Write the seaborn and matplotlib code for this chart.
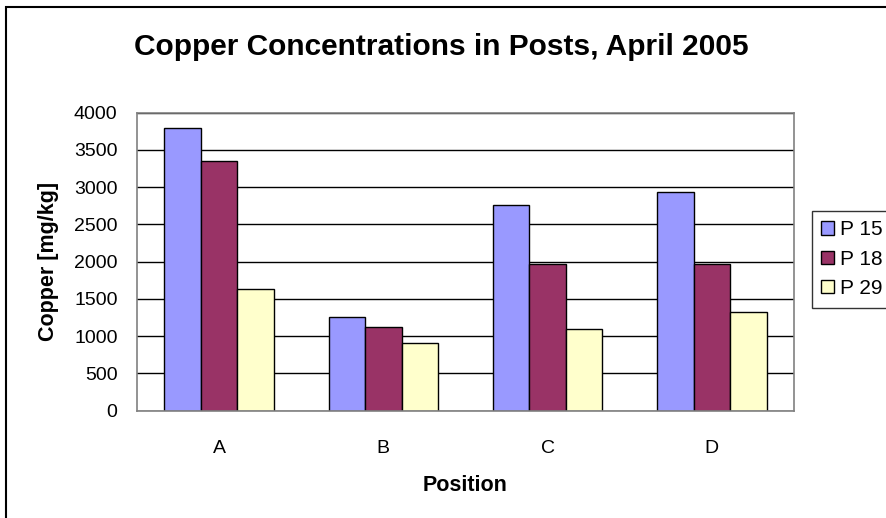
import matplotlib
matplotlib.use("Agg")
import matplotlib.pyplot as plt
import matplotlib.patches as mpatches
import pandas as pd
import seaborn as sns

# data
positions = ["A", "B", "C", "D"]
posts = ["P 15", "P 18", "P 29"]
p15 = [3800, 1260, 2760, 2940]
p18 = [3350, 1130, 1970, 1970]
p29 = [1640, 910, 1090, 1320]
colors = ["#9999FF", "#993366", "#FFFFCC"]
y_ticks = [0, 500, 1000, 1500, 2000, 2500, 3000, 3500, 4000]

df = pd.DataFrame({
    "Position": positions * 3,
    "Post": [p for p in posts for _ in positions],
    "Copper": p15 + p18 + p29,
})

sns.set_style("white")
plt.rcParams["font.family"] = ["Liberation Sans", "DejaVu Sans"]
plt.rcParams["text.color"] = "black"
plt.rcParams["axes.labelcolor"] = "black"
plt.rcParams["xtick.color"] = "black"
plt.rcParams["ytick.color"] = "black"

fig = plt.figure(figsize=(8.87, 5.18), dpi=100)
ax = fig.add_axes([137 / 887, 1 - 410.7 / 518, (794 - 137) / 887, 298 / 518])

sns.barplot(data=df, x="Position", y="Copper", hue="Post", order=positions,
            hue_order=posts, palette=colors, width=0.667, gap=0,
            edgecolor="black", linewidth=1, saturation=1, ax=ax, zorder=3)

ax.set_ylim(0, 4000)
ax.set_xlim(-0.5, len(positions) - 0.5)
ax.set_yticks(y_ticks)
ax.set_yticklabels([str(v) for v in y_ticks], fontsize=14)
ax.tick_params(axis="y", direction="out", length=5, width=1, color="#808080",
               labelcolor="black", pad=9)
ax.tick_params(axis="x", which="major", length=0, labelsize=14, labelcolor="black", pad=21)
ax.set_xticks([i - 0.5 for i in range(len(positions) + 1)], minor=True)
ax.tick_params(axis="x", which="minor", direction="out", length=6, width=1, color="#808080")

ax.yaxis.grid(True, color="black", linewidth=1)
ax.set_axisbelow(True)
for s in ax.spines.values():
    s.set_visible(True)
    s.set_color("#808080")
    s.set_linewidth(1.2)
    s.set_zorder(4)

ax.set_xlabel("Position", fontsize=15.5, fontweight="bold", labelpad=13)
ax.set_ylabel("Copper [mg/kg]", fontsize=15.5, fontweight="bold", labelpad=11)
fig.suptitle("Copper Concentrations in Posts, April 2005", x=0.497, y=1 - 47 / 518,
             va="center", fontsize=21.5, fontweight="bold")

ax.legend(loc="upper left", bbox_to_anchor=(812 / 887, 1 - 211 / 518),
          bbox_transform=fig.transFigure, frameon=True, fancybox=False,
          edgecolor="black", fontsize=15, handlelength=0.6, handleheight=0.6,
          handletextpad=0.3, borderpad=0.45, labelspacing=0.5, borderaxespad=0)
ax.get_legend().get_frame().set_linewidth(1)

# outer chart border, cut off at right and bottom like the reference
fig.patches.append(mpatches.Rectangle((6 / 887, -0.1), 1.2, 1 - 7 / 518 + 0.1,
                                      transform=fig.transFigure, fill=False,
                                      edgecolor="black", linewidth=1.5))

fig.savefig("out.png", dpi=100)
plt.close(fig)
